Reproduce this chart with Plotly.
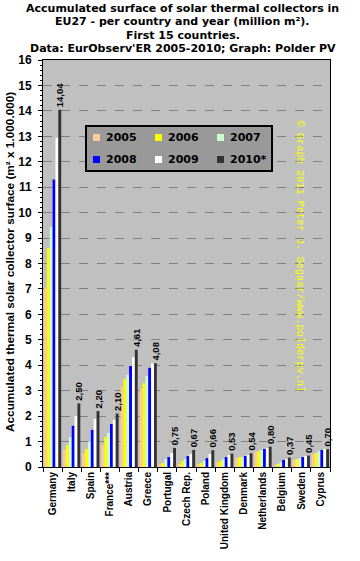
import plotly.graph_objects as go

countries = ["Germany", "Italy", "Spain", "France***", "Austria", "Greece", "Portugal",
             "Czech Rep.", "Poland", "United Kingdom", "Denmark", "Netherlands",
             "Belgium", "Sweden", "Cyprus"]

years = ["2005", "2006", "2007", "2008", "2009", "2010*"]

y2005 = [7.05, 0.67, 0.55, 0.87, 3.15, 3.07, 0.12, 0.12, 0.12, 0.20, 0.35, 0.59, 0.07, 0.28, 0.51]
y2006 = [8.60, 0.87, 0.71, 1.18, 3.46, 3.30, 0.16, 0.24, 0.16, 0.24, 0.39, 0.63, 0.12, 0.31, 0.55]
y2007 = [9.43, 1.18, 0.98, 1.34, 3.62, 3.58, 0.31, 0.31, 0.24, 0.31, 0.39, 0.67, 0.20, 0.35, 0.63]
y2008 = [11.30, 1.62, 1.46, 1.69, 3.97, 3.90, 0.39, 0.43, 0.35, 0.39, 0.43, 0.71, 0.28, 0.39, 0.67]
y2009 = [12.94, 2.00, 1.89, 1.85, 4.32, 4.07, 0.55, 0.51, 0.51, 0.47, 0.47, 0.75, 0.31, 0.43, 0.71]
y2010 = [14.04, 2.50, 2.20, 2.10, 4.61, 4.08, 0.75, 0.67, 0.66, 0.53, 0.54, 0.80, 0.37, 0.45, 0.70]

series = [y2005, y2006, y2007, y2008, y2009, y2010]
colors = ["#ffcc99", "#ffff00", "#ccffcc", "#0000ff", "#ffffff", "#333333"]

title_lines = ["Accumulated surface of solar thermal collectors in",
               "EU27 - per country and year (million m²).",
               "First 15 countries.",
               "Data: EurObserv'ER 2005-2010; Graph: Polder PV"]
y_title = "Accumulated thermal solar collector surface (m² x 1.000.000)"
watermark = "© Graph 2011 Peter J. Segaar/www.polderpv.nl"

SANS = "Liberation Sans"
WIDE = "DejaVu Sans"

# plot area in pixels (for placing page texts)
L, R, T, B = 43, 330, 60, 467
def px_x(x):
    return (x - L) / (R - L)
def px_y(y):
    return (B - y) / (B - T)

fig = go.Figure()
for i, (yr, vals, col) in enumerate(zip(years, series, colors)):
    kw = {}
    if i == len(years) - 1:
        kw = dict(text=["\u00a0" + f"{v:.2f}".replace(".", ",") for v in vals],
                  textposition="outside", textangle=-90, constraintext="none",
                  cliponaxis=False,
                  textfont=dict(family=SANS, size=9.5, color="black", weight="bold"))
    fig.add_trace(go.Bar(x=countries, y=vals, name=yr, marker=dict(color=col, line=dict(width=0)),
                         showlegend=False, **kw))

annotations = []
shapes = []
title_y = [8, 21.5, 35, 48.5]
for line, ty in zip(title_lines, title_y):
    annotations.append(dict(text=line, x=px_x(182.5), y=px_y(ty), xref="paper", yref="paper",
                            xanchor="center", yanchor="middle", showarrow=False,
                            font=dict(family=WIDE, size=11, color="black", weight="bold")))
annotations.append(dict(text=y_title, x=px_x(9.5), y=px_y(262.5), xref="paper", yref="paper",
                        xanchor="center", yanchor="middle", textangle=-90, showarrow=False,
                        font=dict(family=SANS, size=11.8, color="black", weight="bold")))
annotations.append(dict(text=watermark, x=px_x(307.5), y=px_y(256), xref="paper", yref="paper",
                        textangle=90, showarrow=False,
                        font=dict(family="Liberation Mono", size=10.3, color="#ffff00")))

# legend box (3 columns x 2 rows)
shapes.append(dict(type="rect", xref="paper", yref="paper",
                   x0=px_x(86), x1=px_x(272), y0=px_y(171), y1=px_y(126),
                   fillcolor="#999999", line=dict(color="black", width=2), layer="above"))
col_x = [93, 155, 217]
row_y = [137.5, 159.5]
for i, (yr, col) in enumerate(zip(years, colors)):
    cx = col_x[i % 3]
    cy = row_y[i // 3]
    shapes.append(dict(type="rect", xref="paper", yref="paper",
                       x0=px_x(cx), x1=px_x(cx + 7), y0=px_y(cy + 3.5), y1=px_y(cy - 3.5),
                       fillcolor=col, line=dict(width=0), layer="above"))
    annotations.append(dict(text=yr, x=px_x(cx + 10.5), y=px_y(cy), xref="paper", yref="paper",
                            xanchor="left", yanchor="middle", showarrow=False,
                            font=dict(family=WIDE, size=11, color="black", weight="bold")))

fig.update_layout(
    width=360, height=561,
    margin=dict(l=L, r=360 - R, t=T, b=561 - B),
    paper_bgcolor="white", plot_bgcolor="#c0c0c0",
    barmode="group", bargap=0.1, bargroupgap=0,
    showlegend=False,
    xaxis=dict(type="category", tickangle=-90, ticks="outside", tickson="boundaries", ticklen=4,
               tickcolor="black", showline=True, linecolor="black", linewidth=1, mirror=True,
               tickfont=dict(family=SANS, size=10, color="black", weight="bold"), showgrid=False),
    yaxis=dict(range=[0, 16], dtick=1, ticks="outside", ticklen=4, tickcolor="black",
               showline=True, linecolor="black", linewidth=1, mirror=True,
               showgrid=True, gridcolor="#808080", griddash="dash", gridwidth=1,
               zeroline=False, ticklabelstandoff=4,
               minor=dict(dtick=0.2, ticks="outside", ticklen=2, tickcolor="black", showgrid=False),
               tickfont=dict(family=SANS, size=12, color="black", weight="bold")),
    annotations=annotations,
    shapes=shapes,
)

fig.write_html("out.html", config={"displayModeBar": False, "staticPlot": True},
               post_script="document.body.style.margin='0px';")
